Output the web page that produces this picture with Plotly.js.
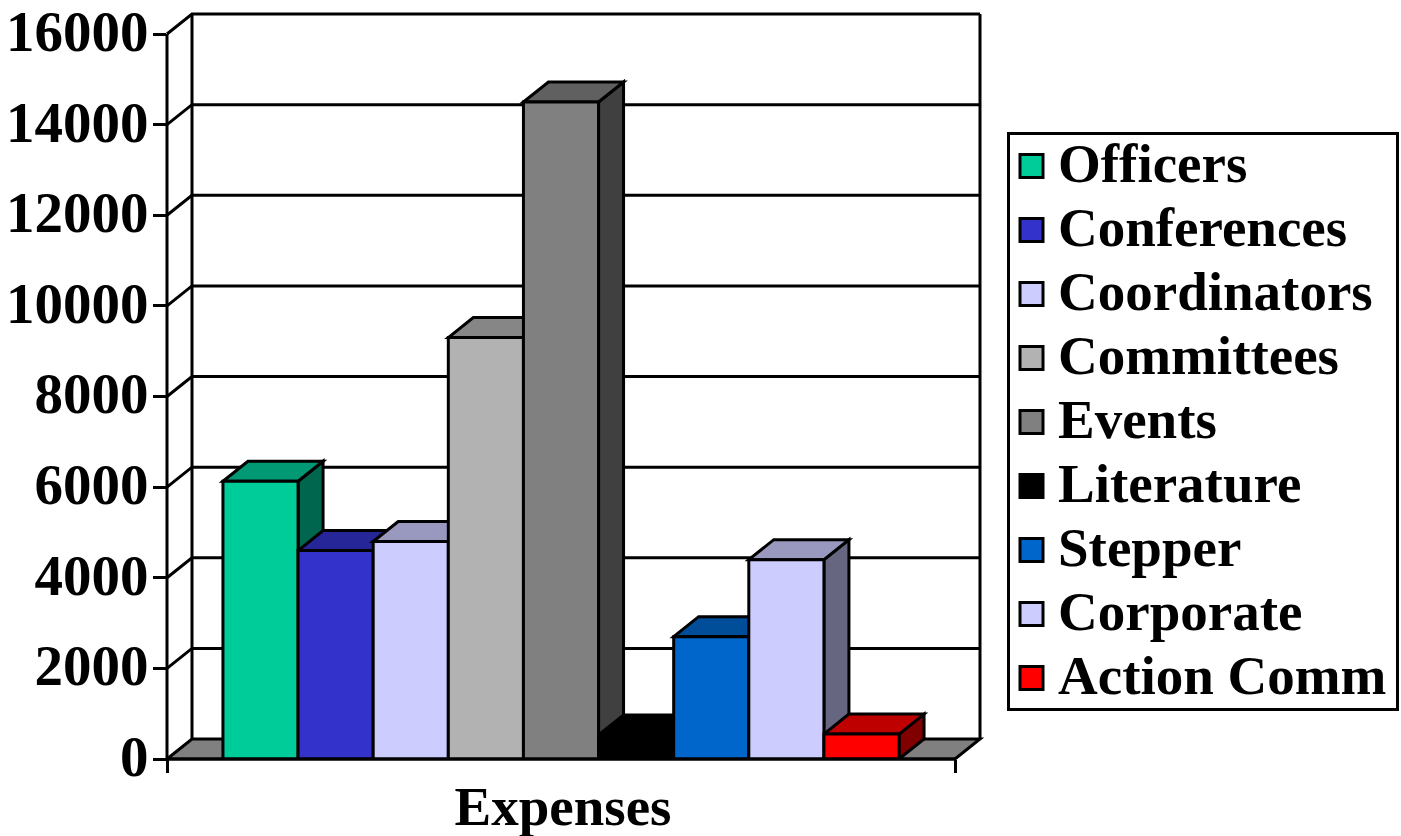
<!DOCTYPE html>
<html>
<head>
<meta charset="utf-8">
<script src="https://cdn.plot.ly/plotly-3.0.1.min.js"></script>
<style>html,body{margin:0;padding:0;background:#fff}#chart{width:1401px;height:836px}</style>
</head>
<body>
<div id="chart"></div>
<script>
const category = 'Expenses';
const seriesNames = ['Officers','Conferences','Coordinators','Committees','Events','Literature','Stepper','Corporate','Action Comm'];
const seriesValues = [6130,4600,4800,9300,14500,530,2700,4400,550];
const seriesColors = [[0,204,153],[51,51,204],[204,204,255],[178,178,178],[128,128,128],[0,0,0],[0,102,204],[204,204,255],[255,0,0]];
const yTicks = [0,2000,4000,6000,8000,10000,12000,14000,16000];

const W = 1401, H = 836;
const L = 167, R = 980, T = 14, B = 759;        // plot box in pixels
const frontRight = 955, pxPerUnit = (frontRight - L);
const pxPerVal = 725 / 16000;
const wallDX = 25 / pxPerUnit, wallDY = 20 / pxPerVal;
const barDX = 25 / pxPerUnit, barDY = 20 / pxPerVal;
const xRange = [-0.5, 0.5 + wallDX], yRange = [0, 16000 + wallDY];
const bargap = 0.142, barW = (1 - bargap) / seriesNames.length;
const LW = 3, BLACK = '#000';

const rgb = (c, k) => `rgb(${c.map(v => Math.round(v * k)).join(',')})`;
const fx = u => (u - xRange[0]) / (xRange[1] - xRange[0]);
const fy = v => v / yRange[1];

const traces = seriesNames.map((name, i) => ({
  type: 'bar', name, x: [category], y: [seriesValues[i]],
  cliponaxis: false,
  marker: {color: rgb(seriesColors[i], 1), line: {color: BLACK, width: LW}},
  hoverinfo: 'name+y'
}));

const shapes = [];
const line = {color: BLACK, width: LW};
const paperPath = (pts, extra) => Object.assign({
  type: 'path', xref: 'paper', yref: 'paper', layer: 'below',
  path: 'M' + pts.map(p => fx(p[0]) + ',' + fy(p[1])).join('L'), line
}, extra);
shapes.push(paperPath([[-0.5,0],[-0.5+wallDX,wallDY],[0.5+wallDX,wallDY],[0.5,0]], {fillcolor:'#808080'}));
shapes[0].path += 'Z';
yTicks.slice(1).forEach(v => {
  shapes.push(paperPath([[-0.5,v],[-0.5+wallDX,v+wallDY],[0.5+wallDX,v+wallDY]], {fillcolor:'rgba(0,0,0,0)'}));
});
shapes.push(paperPath([[-0.5,0],[-0.5,16000]]));
shapes.push(paperPath([[-0.5+wallDX,wallDY],[-0.5+wallDX,16000+wallDY]]));
shapes.push(paperPath([[0.5+wallDX,wallDY],[0.5+wallDX,16000+wallDY]]));
seriesValues.forEach((v, i) => {
  const x0 = -(1 - bargap) / 2 + i * barW, x1 = x0 + barW;
  const dx = barDX, dy = barDY;
  shapes.push({type:'path', xref:'x', yref:'y', layer:'below', line,
    fillcolor: rgb(seriesColors[i], 0.5),
    path:`M${x1},0L${x1+dx},${dy}L${x1+dx},${v+dy}L${x1},${v}Z`});
  shapes.push({type:'path', xref:'x', yref:'y', layer:'below', line,
    fillcolor: rgb(seriesColors[i], 0.75),
    path:`M${x0},${v}L${x0+dx},${v+dy}L${x1+dx},${v+dy}L${x1},${v}Z`});
});
shapes.push(Object.assign(paperPath([[-0.5,0],[0.5,0]]), {layer:'above'}));

const font = {family:'"Liberation Serif", serif', color:'#000'};
const layout = {
  width: W, height: H, autosize:false,
  margin:{l:L, r:W-R, t:T, b:H-B, pad:0, autoexpand:false},
  paper_bgcolor:'#fff', plot_bgcolor:'rgba(0,0,0,0)',
  barmode:'group', bargap, bargroupgap:0,
  font,
  showlegend:true,
  legend:{
    x:(1007-L)/(R-L), xanchor:'left', y:(B-133)/(B-T), yanchor:'top',
    bgcolor:'#fff', bordercolor:BLACK, borderwidth:3,
    font:Object.assign({size:55, weight:700}, font),
    itemwidth:38, entrywidth:310, entrywidthmode:'pixels', traceorder:'normal', itemclick:false, itemdoubleclick:false
  },
  xaxis:{
    type:'category', range:xRange, tickson:'boundaries', ticks:'outside', ticklen:13, tickwidth:LW, tickcolor:BLACK,
    showgrid:false, zeroline:false, showline:false, automargin:false,
    ticklabelstandoff:10, ticklabelshift:2,
    tickfont:Object.assign({size:55, weight:700}, font), fixedrange:true
  },
  yaxis:{
    range:yRange, tickvals:yTicks, ticktext:yTicks.map(String), ticks:'outside', ticklen:13, tickwidth:LW, tickcolor:BLACK,
    showgrid:false, zeroline:false, showline:false, automargin:false,
    ticklabelstandoff:-7, ticklabelshift:-3, ticklabeloverflow:'allow',
    tickfont:Object.assign({size:57, weight:700}, font), fixedrange:true
  },
  shapes
};
Plotly.newPlot('chart', traces, layout, {displayModeBar:false, responsive:false}).then(gd => {
  // The reference legend packs its rows tighter and uses larger keys than Plotly's defaults.
  const rowH = 64, firstRow = 33, boxW = 392, boxH = 579, textLift = 5;
  gd.querySelectorAll('.legend .legendpoints path').forEach(p => p.setAttribute('d','M9,11.5H-14V-11.5H9Z'));
  gd.querySelectorAll('.legend .traces').forEach((t, i) => {
    t.setAttribute('transform', `translate(3,${firstRow + rowH * i})`);
    const txt = t.querySelector('.legendtext');
    txt.setAttribute('y', parseFloat(txt.getAttribute('y')) - textLift);
  });
  const box = gd.querySelector('.legend .scrollbox');
  if (box) box.removeAttribute('clip-path');
  const bg = gd.querySelector('.legend rect.bg');
  bg.setAttribute('width', boxW - 3); bg.setAttribute('height', boxH - 3);
  bg.setAttribute('x', 1.5); bg.setAttribute('y', 0.5);
  bg.style.strokeWidth = LW + 'px';
});
</script>
</body>
</html>
